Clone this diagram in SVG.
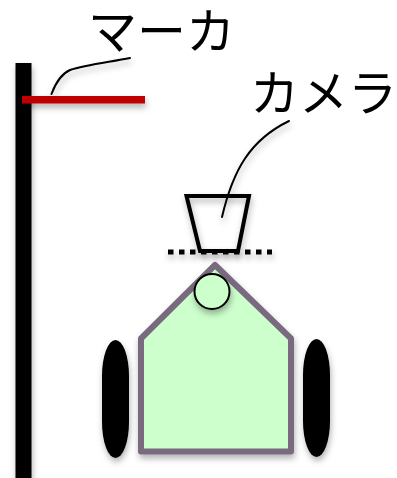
<svg xmlns="http://www.w3.org/2000/svg" width="397" height="478" viewBox="0 0 397 478">
<style>
.lbl{font-family:"Noto Sans CJK JP","Noto Sans",sans-serif;font-size:49px;font-weight:400;fill:#000}
.lead{fill:none;stroke:#000;stroke-width:2;stroke-linecap:round}
</style>
<defs>
<filter id="sh" filterUnits="userSpaceOnUse" x="0" y="0" width="397" height="478"><feDropShadow dx="1" dy="4" stdDeviation="3" flood-color="#000" flood-opacity="0.3"/></filter>
</defs>
<rect width="397" height="478" fill="#fff"/>
<g id="pillar" filter="url(#sh)"><rect x="15.500" y="63" width="16" height="420" fill="#000"/></g>
<g id="marker" filter="url(#sh)"><rect x="22" y="96" width="123" height="7.500" fill="#c00000"/></g>
<g id="wheel-left" filter="url(#sh)"><rect x="102" y="340" width="27" height="118" rx="13.500" ry="36" fill="#000"/></g>
<g id="wheel-right" filter="url(#sh)"><rect x="303" y="339" width="27" height="118" rx="13.500" ry="36" fill="#000"/></g>
<g id="body" filter="url(#sh)"><path d="M215 265L141 338.500V451.500H291V338.500Z" fill="#ccffcc" stroke="#7a6a80" stroke-width="6" stroke-linejoin="round"/></g>
<g id="sensor" filter="url(#sh)"><circle cx="212" cy="291.500" r="17.500" fill="#ccffcc" stroke="#000" stroke-width="2"/></g>
<g id="camera" filter="url(#sh)"><path d="M186.500 196H249L238 251H200Z" fill="none" stroke="#000" stroke-width="4" stroke-linejoin="miter"/></g>
<g id="plane" filter="url(#sh)"><path d="M168 252H272" fill="none" stroke="#000" stroke-width="5" stroke-dasharray="5.500 5.500"/></g>
<g id="connectors" filter="url(#sh)">
<path class="lead" d="M51.500 94C56 82 61 74 70 70C85 65 110 62 130 58"/>
<path class="lead" d="M222 217C233 170 250 140 289 121"/>
</g>
<g id="label-marker"><text class="lbl" x="88" y="49">マーカ</text></g>
<g id="label-camera"><text class="lbl" x="250" y="111">カメラ</text></g>
</svg>
